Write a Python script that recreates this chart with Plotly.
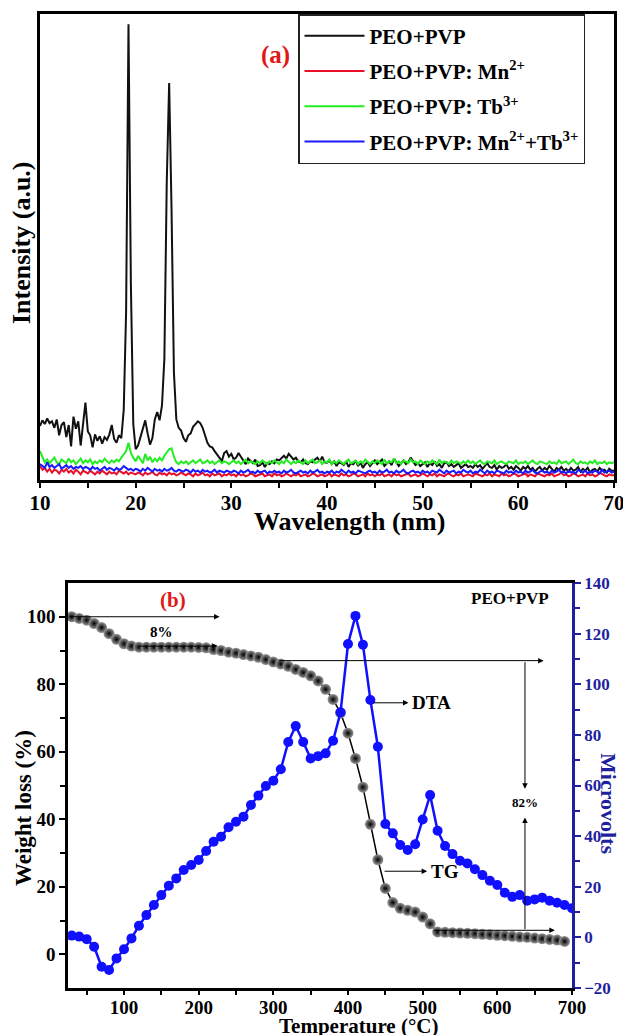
import numpy as np
import plotly.graph_objects as go

# ---------------- (a) spectra ----------------
wavelength = np.round(np.arange(10.0, 70.001, 0.25), 2)

peo_pvp = [
    116, 128, 120, 132, 122, 126, 112, 130, 96, 118, 124, 92, 118, 72, 136, 110, 126, 74, 120, 166,
    104, 96, 70, 98, 84, 94, 78, 92, 86, 98, 118, 88, 80, 96, 90, 150, 360, 978, 420, 120,
    66, 74, 92, 112, 128, 100, 76, 90, 130, 146, 128, 160, 260, 640, 852, 580, 230, 130, 112, 106,
    90, 82, 96, 100, 114, 120, 126, 122, 112, 96, 80, 72, 70, 62, 56, 48, 40, 58, 62, 50,
    56, 44, 48, 58, 50, 42, 34, 46, 40, 36, 44, 30, 32, 38, 28, 36, 34, 40, 36, 44,
    42, 48, 52, 46, 56, 50, 44, 48, 40, 38, 44, 36, 34, 40, 38, 44, 48, 40, 50, 38,
    37, 42, 34, 40, 30, 38, 36, 32, 40, 28, 36, 34, 42, 30, 38, 26, 34, 38, 30, 36,
    42, 34, 38, 44, 30, 36, 40, 32, 46, 38, 30, 36, 42, 34, 38, 48, 40, 32, 36, 30,
    34, 38, 28, 36, 32, 40, 30, 34, 26, 36, 38, 30, 34, 28, 32, 36, 26, 30, 34, 28,
    30, 26, 34, 28, 32, 24, 30, 36, 28, 26, 32, 22, 30, 26, 28, 34, 24, 28, 22, 30,
    26, 20, 28, 24, 30, 22, 26, 18, 24, 28, 20, 26, 22, 30, 24, 18, 26, 22, 28, 20,
    24, 18, 26, 20, 22, 28, 18, 24, 20, 26, 16, 22, 24, 18, 26, 20, 22, 16, 24, 20,
    20,
]

peo_pvp_mn = [
    30, 22, 26, 18, 24, 16, 22, 20, 14, 22, 18, 24, 16, 20, 14, 22, 18, 12, 20, 16,
    14, 20, 16, 12, 18, 14, 20, 16, 12, 18, 14, 16, 12, 20, 16, 14, 18, 12, 16, 14,
    12, 16, 14, 10, 16, 12, 14, 18, 12, 10, 16, 12, 14, 10, 16, 12, 14, 10, 12, 16,
    12, 10, 14, 12, 8, 14, 10, 12, 16, 10, 12, 8, 14, 10, 12, 14, 8, 12, 10, 14,
    10, 12, 8, 14, 10, 12, 8, 10, 14, 12, 8, 10, 12, 14, 8, 10, 12, 8, 14, 10,
    12, 8, 10, 14, 10, 8, 12, 10, 14, 8, 10, 12, 8, 10, 14, 12, 8, 10, 12, 8,
    10, 14, 8, 12, 10, 8, 14, 10, 12, 8, 10, 14, 12, 8, 10, 12, 8, 14, 10, 12,
    8, 12, 10, 14, 8, 10, 12, 8, 14, 10, 12, 8, 10, 12, 14, 8, 10, 12, 8, 10,
    14, 10, 8, 12, 10, 14, 8, 12, 10, 8, 12, 14, 10, 8, 12, 10, 14, 8, 10, 12,
    10, 8, 14, 12, 10, 8, 12, 10, 14, 8, 12, 10, 8, 14, 10, 12, 8, 10, 14, 12,
    8, 10, 12, 14, 8, 12, 10, 8, 14, 12, 10, 8, 12, 10, 14, 8, 10, 12, 16, 10,
    12, 8, 10, 14, 12, 8, 10, 12, 8, 14, 10, 12, 8, 10, 16, 12, 10, 8, 12, 10,
    10,
]

peo_pvp_tb = [
    62, 48, 38, 44, 36, 42, 48, 38, 34, 44, 40, 36, 46, 38, 42, 34, 40, 46, 36, 42,
    38, 44, 34, 40, 36, 42, 38, 46, 40, 36, 42, 38, 44, 40, 48, 56, 62, 80, 58, 48,
    40, 52, 44, 36, 56, 42, 50, 38, 46, 40, 48, 42, 52, 60, 66, 68, 50, 38, 34, 40,
    36, 40, 34, 38, 42, 36, 40, 44, 36, 38, 42, 36, 40, 34, 38, 42, 36, 40, 38, 34,
    38, 42, 36, 40, 34, 38, 44, 36, 40, 38, 34, 40, 36, 42, 38, 34, 40, 36, 42, 38,
    34, 40, 36, 44, 38, 34, 40, 36, 42, 38, 34, 42, 36, 40, 44, 36, 38, 42, 34, 40,
    38, 44, 34, 40, 36, 42, 38, 34, 40, 44, 36, 38, 42, 34, 40, 36, 44, 38, 34, 40,
    36, 42, 38, 34, 44, 36, 40, 38, 46, 36, 40, 34, 42, 38, 36, 44, 38, 40, 34, 42,
    38, 34, 40, 36, 42, 38, 34, 44, 36, 40, 38, 34, 42, 36, 40, 38, 34, 40, 36, 42,
    36, 40, 34, 38, 42, 36, 34, 40, 38, 36, 42, 34, 38, 40, 36, 34, 40, 38, 36, 42,
    34, 38, 36, 40, 34, 38, 42, 36, 34, 40, 38, 36, 34, 40, 36, 38, 34, 42, 36, 38,
    40, 34, 38, 44, 36, 34, 40, 36, 38, 34, 40, 36, 42, 34, 38, 36, 40, 34, 38, 36,
    38,
]

peo_pvp_mn_tb = [
    34, 30, 26, 38, 28, 32, 26, 30, 34, 24, 28, 32, 26, 30, 24, 28, 26, 30, 24, 28,
    26, 22, 28, 24, 26, 20, 24, 28, 22, 26, 24, 20, 26, 22, 24, 30, 26, 22, 24, 20,
    24, 22, 18, 24, 20, 26, 22, 18, 24, 20, 22, 18, 24, 20, 22, 26, 20, 18, 22, 20,
    18, 22, 20, 16, 22, 18, 20, 16, 22, 18, 20, 16, 18, 22, 16, 20, 18, 16, 20, 18,
    16, 20, 18, 14, 20, 16, 18, 22, 16, 18, 14, 20, 16, 18, 20, 14, 18, 16, 20, 16,
    18, 14, 20, 16, 18, 22, 16, 14, 18, 20, 16, 18, 14, 20, 16, 18, 22, 16, 18, 14,
    18, 16, 20, 14, 18, 16, 22, 18, 14, 20, 16, 18, 14, 20, 18, 16, 14, 18, 20, 16,
    18, 14, 20, 16, 18, 22, 16, 18, 14, 20, 16, 18, 22, 16, 14, 18, 20, 16, 18, 14,
    20, 16, 18, 14, 20, 18, 16, 22, 18, 14, 20, 16, 18, 20, 14, 18, 16, 22, 18, 16,
    20, 14, 18, 16, 22, 18, 14, 20, 16, 18, 14, 20, 18, 16, 14, 20, 16, 18, 14, 20,
    16, 18, 14, 20, 16, 18, 22, 16, 14, 18, 20, 16, 18, 14, 20, 16, 18, 22, 16, 18,
    14, 20, 16, 18, 14, 22, 18, 16, 20, 14, 18, 16, 20, 18, 14, 22, 16, 18, 20, 16,
    18,
]

spectra = [
    ("PEO+PVP", peo_pvp, "#111111"),
    ("PEO+PVP: Mn<sup>2+</sup>", peo_pvp_mn, "#e8102a"),
    ("PEO+PVP: Tb<sup>3+</sup>", peo_pvp_tb, "#22ee22"),
    ("PEO+PVP: Mn<sup>2+</sup>+Tb<sup>3+</sup>", peo_pvp_mn_tb, "#1a1aff"),
]

# ---------------- (b) thermal analysis ----------------
temp_tg = list(range(30, 700, 10))
weight_loss = [
    100, 99.5, 99, 98, 96.8, 95, 93.3, 92, 91.3, 91,
    91, 91, 91, 91, 91, 91, 91, 90.9, 90.8, 90.3,
    90, 89.5, 89.2, 88.8, 88.4, 88, 87.3, 86.6, 86, 85.3,
    84.4, 83.5, 82.5, 81, 78.5, 75.5, 71.5, 65.5, 58, 49.5,
    38.5, 28, 19.5, 15.3, 13.6, 13, 12.5, 11, 9, 6.6,
    6.5, 6.4, 6.3, 6.2, 6.1, 5.9, 5.8, 5.6, 5.5, 5.3,
    5.1, 5.0, 4.8, 4.6, 4.4, 4.2, 3.8,
]

temp_dta = list(range(30, 710, 10))
microvolts = [
    0.7, 0.3, -0.7, -3.7, -11.6, -12.9, -8.3, -4.7, -0.4, 4.6,
    8.8, 12.8, 16.7, 20.4, 23.3, 26.6, 28.6, 30.6, 34.1, 37.8,
    39.8, 43.5, 45.7, 47.7, 52.3, 56, 59.8, 61.9, 66.4, 77.2,
    83.5, 77.2, 70.7, 71.6, 72.7, 77.7, 88.9, 115.9, 127, 115.6,
    93.8, 75.3, 44.8, 41.1, 36.5, 34.5, 36.8, 46.6, 56.2, 42.1,
    36.1, 32.9, 30.3, 29.2, 26.9, 24.6, 22.4, 20.7, 17.6, 16,
    16.7, 14.5, 15, 15.7, 14.5, 13.7, 12.8, 11.5,
]

W, H = 623, 1035
SERIF = "Liberation Serif"
AX_BLUE = "#1f1fa0"

fig = go.Figure()

for i, (name, vals, color) in enumerate(spectra):
    fig.add_trace(go.Scatter(
        x=wavelength, y=vals, mode="lines", name=name, legendgroup=f"g{i}",
        line=dict(color=color, width=2), xaxis="x", yaxis="y",
    ))

fig.add_trace(go.Scatter(
    x=temp_tg, y=weight_loss, mode="lines+markers", showlegend=False,
    line=dict(color="black", width=1.5),
    marker=dict(size=11, color="#9a9a9a",
                gradient=dict(type="radial", color="#000000"),
                line=dict(width=0)),
    xaxis="x2", yaxis="y2",
))
fig.add_trace(go.Scatter(
    x=temp_dta, y=microvolts, mode="lines+markers", showlegend=False,
    line=dict(color="#1010ff", width=2.5),
    marker=dict(size=10, color="#1010ff"),
    xaxis="x2", yaxis="y3",
))


def px_x(p):
    return p / W


def px_y(p):
    return 1 - p / H


bold = dict(family=SERIF, weight="bold", color="black")


def paper_text(text, x, y, size, color="black", angle=0):
    return dict(text=text, x=px_x(x), y=px_y(y), xref="paper", yref="paper",
                xanchor="center", yanchor="middle", showarrow=False, textangle=angle,
                font=dict(family=SERIF, weight="bold", size=size, color=color))


layout_annotations = [
    # axis titles
    paper_text("Wavelength (nm)", 349, 521, 26),
    paper_text("Intensity (a.u.)", 22, 243, 26, angle=-90),
    paper_text("Temperature (°C)", 358, 1026, 21),
    paper_text("Weight loss (%)", 23, 808, 23, angle=-90),
    paper_text("Microvolts", 609, 803, 22, color=AX_BLUE, angle=90),
    # panel labels
    paper_text("(a)", 275, 55, 25, color="#e01818"),
    dict(text="(b)", x=166, y=105, xref="x2", yref="y2", showarrow=False,
         font=dict(family=SERIF, weight="bold", size=21, color="#e01818")),
    dict(text="PEO+PVP", x=617, y=105.3, xref="x2", yref="y2", showarrow=False,
         font=dict(bold, size=17)),
    dict(text="8%", x=150, y=95.6, xref="x2", yref="y2", showarrow=False,
         font=dict(bold, size=15)),
    dict(text="82%", x=637, y=45, xref="x2", yref="y2", showarrow=False,
         font=dict(bold, size=13)),
    dict(text="DTA", x=483, y=74.5, xref="x2", yref="y2", showarrow=False,
         xanchor="left", font=dict(bold, size=19)),
    dict(text="TG", x=508, y=24.6, xref="x2", yref="y2", showarrow=False,
         xanchor="left", font=dict(bold, size=19)),
]

# arrows: (tail_x, tail_y, head_x, head_y) in TG data units
arrows = [
    (25, 100, 228, 100),
    (120, 91.3, 225, 91.3),
    (306, 87, 662, 87),
    (637, 87, 637, 49),
    (637, 7, 637, 40.5),
    (513, 7.1, 677, 7.1),
    (432, 74.5, 481, 74.5),
    (447, 24.6, 506, 24.6),
]
for tx, ty, hx, hy in arrows:
    layout_annotations.append(dict(
        x=hx, y=hy, ax=tx, ay=ty, xref="x2", yref="y2", axref="x2", ayref="y2",
        text="", showarrow=True, arrowhead=2, arrowsize=1.1, arrowwidth=1,
        arrowcolor="black", standoff=0, startstandoff=0,
    ))

tick_font_a = dict(family=SERIF, weight="bold", size=21, color="black")
tick_font_b = dict(family=SERIF, weight="bold", size=19, color="black")

fig.update_layout(
    width=W, height=H,
    margin=dict(l=0, r=0, t=0, b=0),
    paper_bgcolor="white", plot_bgcolor="white",
    showlegend=True,
    legend=dict(
        x=px_x(298), y=px_y(14), xanchor="left", yanchor="top",
        bordercolor="#222222", borderwidth=1.5, bgcolor="white",
        font=dict(family=SERIF, weight="bold", size=21, color="black"),
        tracegroupgap=5, itemwidth=60,
    ),
    xaxis=dict(
        domain=[px_x(40), px_x(614)], anchor="y", automargin=False,
        range=[10, 70], dtick=10, tick0=10, ticklabeloverflow="allow",
        ticklabelstandoff=-3,
        showline=True, linecolor="black", linewidth=2.5, mirror=True,
        ticks="outside", ticklen=5, tickwidth=2, tickcolor="black",
        minor=dict(dtick=5, ticks="outside", ticklen=5, tickwidth=2, tickcolor="black"),
        tickfont=tick_font_a, showgrid=False, zeroline=False,
    ),
    yaxis=dict(
        domain=[px_y(480), px_y(14)], anchor="x", automargin=False,
        range=[0, 1000], showticklabels=False, ticks="",
        showline=True, linecolor="black", linewidth=2.5, mirror=True,
        showgrid=False, zeroline=False,
    ),
    xaxis2=dict(
        domain=[px_x(68), px_x(572)], anchor="y2", automargin=False,
        range=[25, 700], tickvals=[100, 200, 300, 400, 500, 600, 700],
        ticklabeloverflow="allow", ticklabelstandoff=-4,
        showline=True, linecolor="black", linewidth=2.5, mirror=True,
        ticks="outside", ticklen=4, tickwidth=2, tickcolor="black",
        minor=dict(tickvals=[50, 150, 250, 350, 450, 550, 650],
                   ticks="outside", ticklen=4, tickwidth=2, tickcolor="black"),
        tickfont=tick_font_b, showgrid=False, zeroline=False,
    ),
    yaxis2=dict(
        domain=[px_y(988), px_y(583)], anchor="x2", automargin=False,
        range=[-10, 110], tickvals=[0, 20, 40, 60, 80, 100],
        showline=True, linecolor="black", linewidth=2.5, mirror=False,
        ticks="outside", ticklen=6, tickwidth=2, tickcolor="black",
        minor=dict(tickvals=[10, 30, 50, 70, 90], ticks="outside",
                   ticklen=5, tickwidth=2, tickcolor="black"),
        tickfont=tick_font_b, showgrid=False, zeroline=False,
    ),
    yaxis3=dict(
        overlaying="y2", anchor="x2", side="right", automargin=False,
        range=[-20, 140], dtick=20, tick0=-20,
        showline=True, linecolor=AX_BLUE, linewidth=2.5,
        ticks="outside", ticklen=6, tickwidth=2, tickcolor=AX_BLUE,
        minor=dict(dtick=10, ticks="outside", ticklen=5, tickwidth=2, tickcolor=AX_BLUE),
        tickfont=dict(family=SERIF, weight="bold", size=17, color=AX_BLUE),
        showgrid=False, zeroline=False,
    ),
    annotations=layout_annotations,
)

fig.write_html("out.html")
